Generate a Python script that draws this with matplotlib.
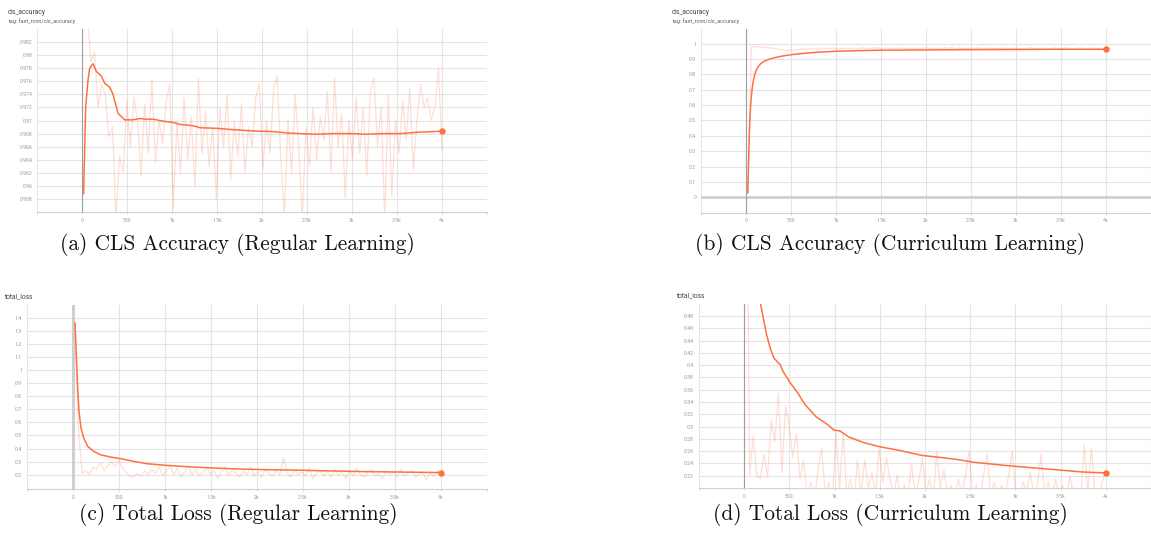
import numpy as np
import matplotlib.pyplot as plt

# ---- data ----
# (a) cls_accuracy, regular learning
acc_reg_smooth_steps = [18, 41, 67, 85, 122, 160, 215, 252, 308, 345, 400, 475, 568, 642, 716, 790,
                        902, 1013, 1087, 1235, 1310, 1495, 1680, 1903, 2126, 2274, 2423, 2608, 2793,
                        2979, 3165, 3350, 3535, 3721, 3906, 4000]
acc_reg_smooth = [0.9588, 0.9721, 0.9762, 0.9780, 0.9787, 0.9775, 0.9768, 0.9757, 0.9751, 0.9740,
                  0.9711, 0.9701, 0.9701, 0.9703, 0.9702, 0.9702, 0.9699, 0.9697, 0.9694, 0.9692,
                  0.9689, 0.9688, 0.9686, 0.9684, 0.9683, 0.9681, 0.9680, 0.9679, 0.9680, 0.9680,
                  0.9679, 0.9680, 0.9680, 0.9682, 0.9683, 0.9684]
acc_reg_raw = [0.9855, 0.9860, 0.9790, 0.9805, 0.9720, 0.9755, 0.9740, 0.9675, 0.9690, 0.9550,
               0.9645, 0.9620, 0.9730, 0.9660, 0.9735, 0.9700, 0.9615, 0.9725, 0.9650, 0.9762,
               0.9635, 0.9700, 0.9665, 0.9730, 0.9755, 0.9565, 0.9700, 0.9620, 0.9735, 0.9640,
               0.9705, 0.9600, 0.9765, 0.9650, 0.9715, 0.9630, 0.9690, 0.9578, 0.9720, 0.9660,
               0.9740, 0.9610, 0.9700, 0.9645, 0.9725, 0.9620, 0.9690, 0.9660, 0.9735, 0.9757,
               0.9625, 0.9700, 0.9650, 0.9750, 0.9768, 0.9640, 0.9555, 0.9700, 0.9620, 0.9740,
               0.9660, 0.9552, 0.9690, 0.9630, 0.9720, 0.9640, 0.9705, 0.9670, 0.9745, 0.9620,
               0.9765, 0.9660, 0.9710, 0.9582, 0.9700, 0.9640, 0.9735, 0.9650, 0.9720, 0.9615,
               0.9745, 0.9765, 0.9660, 0.9720, 0.9552, 0.9740, 0.9585, 0.9700, 0.9650, 0.9730,
               0.9670, 0.9750, 0.9625, 0.9700, 0.9755, 0.9720, 0.9735, 0.9700, 0.9720, 0.9780,
               0.9655]

# (b) cls_accuracy, curriculum learning
acc_cur_smooth_steps = [20, 28, 37, 45, 53, 65, 80, 100, 125, 160, 200, 260, 330, 420, 520, 650,
                        800, 1000, 1250, 1500, 2000, 2500, 3000, 3500, 4000]
acc_cur_smooth = [0.03, 0.22, 0.41, 0.53, 0.61, 0.69, 0.755, 0.805, 0.84, 0.868, 0.885, 0.899,
                  0.910, 0.921, 0.929, 0.937, 0.944, 0.950, 0.954, 0.957, 0.959, 0.961, 0.962,
                  0.963, 0.963]
acc_cur_raw = [0.03, 0.980, 0.979, 0.978, 0.977, 0.975, 0.972, 0.970, 0.966, 0.962, 0.958, 0.955,
               0.960, 0.957, 0.962, 0.965, 0.963, 0.967, 0.965, 0.968, 0.966, 0.970, 0.967, 0.969,
               0.972, 0.966, 0.968, 0.970, 0.967, 0.971, 0.965, 0.969, 0.972, 0.968, 0.966, 0.970,
               0.973, 0.967, 0.969, 0.971, 0.966, 0.970, 0.968, 0.972, 0.967, 0.969, 0.971, 0.966,
               0.970, 0.968, 0.973, 0.967, 0.970, 0.966, 0.969, 0.972, 0.968, 0.975, 0.967, 0.970,
               0.969, 0.966, 0.971, 0.968, 0.973, 0.970, 0.967, 0.972, 0.969, 0.966, 0.970, 0.968,
               0.972, 0.967, 0.969, 0.971, 0.966, 0.970, 0.968, 0.974, 0.969, 0.967, 0.971, 0.968,
               0.966, 0.970, 0.972, 0.967, 0.969, 0.974, 0.968, 0.966, 0.970, 0.972, 0.967, 0.969,
               0.971, 0.968, 0.970, 0.966, 0.968]

# (c) total_loss, regular learning
loss_reg_smooth_steps = [22, 36, 51, 65, 87, 116, 159, 224, 296, 405, 513, 658, 802, 1019, 1236,
                         1525, 1814, 2103, 2464, 2825, 3187, 3548, 4000]
loss_reg_smooth = [1.361, 1.119, 0.864, 0.685, 0.557, 0.481, 0.417, 0.379, 0.353, 0.335, 0.323,
                   0.302, 0.284, 0.271, 0.261, 0.251, 0.243, 0.238, 0.234, 0.228, 0.223, 0.220,
                   0.216]
loss_reg_raw = [1.36, 0.55, 0.21, 0.23, 0.20, 0.26, 0.24, 0.29, 0.23, 0.27, 0.30, 0.26, 0.31, 0.25,
                0.22, 0.19, 0.18, 0.21, 0.19, 0.23, 0.20, 0.24, 0.21, 0.26, 0.19, 0.23, 0.27, 0.20,
                0.25, 0.18, 0.22, 0.27, 0.20, 0.24, 0.19, 0.22, 0.25, 0.20, 0.23, 0.17, 0.22, 0.26,
                0.19, 0.24, 0.21, 0.18, 0.23, 0.20, 0.26, 0.19, 0.22, 0.18, 0.24, 0.21, 0.19, 0.23,
                0.20, 0.33, 0.21, 0.18, 0.24, 0.20, 0.22, 0.19, 0.25, 0.17, 0.21, 0.23, 0.19, 0.22,
                0.18, 0.24, 0.20, 0.22, 0.17, 0.23, 0.19, 0.25, 0.20, 0.18, 0.22, 0.24, 0.19, 0.21,
                0.17, 0.23, 0.20, 0.22, 0.18, 0.24, 0.19, 0.21, 0.23, 0.18, 0.20, 0.22, 0.16, 0.21,
                0.19, 0.23, 0.21]

# (d) total_loss, curriculum learning
loss_cur_smooth_steps = [20, 60, 100, 140, 180, 219, 247, 287, 328, 368, 397, 429, 510, 591, 672,
                         794, 915, 996, 1057, 1158, 1320, 1502, 1725, 1968, 2332, 2535, 2940, 3344,
                         3749, 4000]
loss_cur_smooth = [0.90, 0.75, 0.64, 0.56, 0.50, 0.471, 0.450, 0.428, 0.412, 0.405, 0.401, 0.390,
                   0.371, 0.355, 0.336, 0.316, 0.304, 0.294, 0.293, 0.283, 0.274, 0.267, 0.261,
                   0.253, 0.247, 0.242, 0.236, 0.231, 0.226, 0.2245]
loss_cur_raw = [0.90, 0.22, 0.285, 0.22, 0.215, 0.255, 0.218, 0.31, 0.275, 0.355, 0.225, 0.334,
                0.30, 0.25, 0.288, 0.215, 0.245, 0.19, 0.21, 0.18, 0.23, 0.265, 0.19, 0.21, 0.18,
                0.29, 0.20, 0.29, 0.19, 0.215, 0.18, 0.245, 0.19, 0.245, 0.20, 0.225, 0.19, 0.265,
                0.21, 0.25, 0.215, 0.19, 0.22, 0.18, 0.205, 0.185, 0.24, 0.19, 0.21, 0.25, 0.19,
                0.215, 0.18, 0.26, 0.20, 0.23, 0.19, 0.205, 0.18, 0.215, 0.19, 0.22, 0.26, 0.19,
                0.205, 0.18, 0.22, 0.255, 0.19, 0.21, 0.18, 0.205, 0.19, 0.22, 0.26, 0.19, 0.18,
                0.21, 0.195, 0.225, 0.19, 0.205, 0.255, 0.19, 0.21, 0.18, 0.215, 0.19, 0.205, 0.18,
                0.22, 0.19, 0.20, 0.18, 0.27, 0.19, 0.265, 0.19, 0.18, 0.21, 0.23]

acc_reg_ticks = [0.958, 0.96, 0.962, 0.964, 0.966, 0.968, 0.97, 0.972, 0.974, 0.976, 0.978, 0.98, 0.982]
acc_cur_ticks = [0, 0.1, 0.2, 0.3, 0.4, 0.5, 0.6, 0.7, 0.8, 0.9, 1]
loss_reg_ticks = [0.2, 0.3, 0.4, 0.5, 0.6, 0.7, 0.8, 0.9, 1, 1.1, 1.2, 1.3, 1.4]
loss_cur_ticks = [0.22, 0.24, 0.26, 0.28, 0.3, 0.32, 0.34, 0.36, 0.38, 0.4, 0.42, 0.44, 0.46, 0.48]
step_ticks = [-500, 0, 500, 1000, 1500, 2000, 2500, 3000, 3500, 4000, 4500]

ORANGE = '#ff7043'
W, H = 1151, 536
fig = plt.figure(figsize=(W / 100, H / 100), dpi=100)
plt.rcParams['font.family'] = ['Roboto', 'DejaVu Sans']


def step_label(v):
    if v < 0 or v > 4000:
        return ''
    if v < 1000:
        return str(int(v))
    return f"{v / 1000:g}k"


def panel(box, xlim, ylim, yticks, raw, sm_steps, sm, title, tag=None, zero_style=None):
    x0, y0, x1, y1 = box
    ax = fig.add_axes([x0 / W, 1 - y1 / H, (x1 - x0) / W, (y1 - y0) / H])
    raw_steps = np.linspace(20, 4000, len(raw))
    ax.plot(raw_steps, raw, color=ORANGE, alpha=0.22, lw=0.9)
    ax.plot(sm_steps, sm, color=ORANGE, lw=1.1, zorder=4)
    ax.plot(sm_steps[-1], sm[-1], 'o', color=ORANGE, ms=3.6, zorder=5)
    vc, vw = zero_style or ('#9e9e9e', 0.8)
    ax.axvline(0, color=vc, lw=vw, zorder=3)
    ax.set_xlim(*xlim)
    ax.set_ylim(*ylim)
    ax.set_xticks(step_ticks)
    ax.set_xticklabels([step_label(v) for v in step_ticks])
    ax.set_yticks(yticks)
    ax.set_yticklabels([f"{round(v, 4):g}" for v in yticks])
    ax.grid(True, color='#e4e4e4', lw=0.8)
    ax.set_axisbelow(True)
    for s in ['top', 'right', 'left']:
        ax.spines[s].set_visible(False)
    ax.spines['bottom'].set_color('#d0d0d0')
    ax.spines['bottom'].set_linewidth(0.8)
    ax.tick_params(axis='y', length=0, pad=3.5, labelsize=3.7, labelcolor='#9a9a9a')
    ax.tick_params(axis='x', length=1.5, width=0.6, color='#d0d0d0', pad=2.5,
                   labelsize=3.7, labelcolor='#9a9a9a')
    tx = x0 - (29 if tag else 23)
    fig.text(tx / W, 1 - (y0 - (16 if tag else 8)) / H, title, fontsize=4.8,
             color='#424242', va='center')
    if tag:
        fig.text(tx / W, 1 - (y0 - 8) / H, tag, fontsize=4.0, color='#616161', va='center')
    return ax


panel((37, 29, 487, 212), (-500, 4500), (0.956, 0.984), acc_reg_ticks,
      acc_reg_raw, acc_reg_smooth_steps, acc_reg_smooth,
      'cls_accuracy', 'tag: fast_rcnn/cls_accuracy')
ax_b = panel((701, 29, 1151, 212.7), (-500, 4450), (-0.1, 1.095), acc_cur_ticks,
             acc_cur_raw, acc_cur_smooth_steps, acc_cur_smooth,
             'cls_accuracy', 'tag: fast_rcnn/cls_accuracy')
ax_b.axhline(0, color='#cfcfcf', lw=2.0, zorder=2)
panel((27, 305, 487, 489), (-500, 4500), (0.09, 1.5), loss_reg_ticks,
      loss_reg_raw, loss_reg_smooth_steps, loss_reg_smooth,
      'total_loss', zero_style=('#cfcfcf', 2.2))
panel((699, 304, 1151, 488), (-500, 4460), (0.2, 0.4995), loss_cur_ticks,
      loss_cur_raw, loss_cur_smooth_steps, loss_cur_smooth, 'total_loss')

captions = ['(a) CLS Accuracy (Regular Learning)', '(b) CLS Accuracy (Curriculum Learning)',
            '(c) Total Loss (Regular Learning)', '(d) Total Loss (Curriculum Learning)']
cap_pos = [(237, 244), (890, 244), (238, 515), (890, 515)]
for cap, (cx, cy) in zip(captions, cap_pos):
    fig.text(cx / W, 1 - cy / H, cap, family='cmr10', fontsize=15.4, color='#111111',
             ha='center', va='center')

fig.savefig('out.png', dpi=100)
